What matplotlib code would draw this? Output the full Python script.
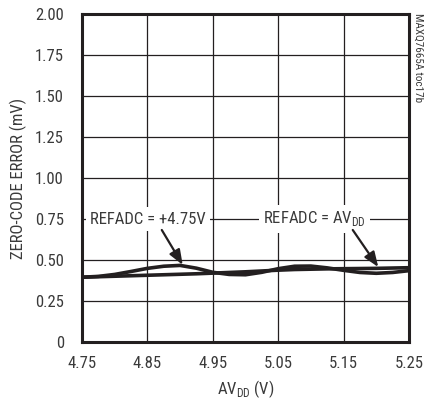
import matplotlib
matplotlib.use("Agg")
import matplotlib.pyplot as plt

# data
avdd = [4.75, 4.775, 4.80, 4.825, 4.85, 4.875, 4.90, 4.925, 4.95, 4.975, 5.00,
        5.025, 5.05, 5.075, 5.10, 5.125, 5.15, 5.175, 5.20, 5.225, 5.25]
err_ref475 = [0.395, 0.400, 0.412, 0.430, 0.449, 0.462, 0.467, 0.450, 0.425, 0.412, 0.410,
              0.425, 0.447, 0.462, 0.463, 0.452, 0.437, 0.424, 0.419, 0.424, 0.435]
err_refavdd = [0.395, 0.398, 0.401, 0.404, 0.407, 0.410, 0.413, 0.416, 0.420, 0.424, 0.428,
               0.433, 0.438, 0.442, 0.444, 0.446, 0.447, 0.448, 0.449, 0.451, 0.453]

x_ticks = [4.75, 4.85, 4.95, 5.05, 5.15, 5.25]
y_ticks = [0, 0.25, 0.50, 0.75, 1.00, 1.25, 1.50, 1.75, 2.00]
y_labels = ["0", "0.25", "0.50", "0.75", "1.00", "1.25", "1.50", "1.75", "2.00"]

INK = "#231f20"
TXT = "#3a3a3a"
FS = 12

plt.rcParams["font.family"] = ["Roboto Condensed", "DejaVu Sans"]
plt.rcParams["mathtext.fontset"] = "custom"
plt.rcParams["mathtext.rm"] = "Roboto Condensed"

fig = plt.figure(figsize=(4.24, 4.05), dpi=100)
ax = fig.add_axes([82 / 424, 63 / 405, 327 / 424, 328 / 405])

ax.plot(avdd, err_refavdd, color=INK, linewidth=2.6, solid_capstyle="butt")
ax.plot(avdd, err_ref475, color=INK, linewidth=2.6, solid_capstyle="butt")

ax.set_xlim(4.75, 5.25)
ax.set_ylim(0, 2.0)
ax.set_xticks(x_ticks)
ax.set_xticklabels([f"{v:.2f}" for v in x_ticks])
ax.set_yticks(y_ticks)
ax.set_yticklabels(y_labels)
ax.tick_params(length=0, labelsize=FS, colors=TXT)
ax.tick_params(axis="x", pad=10)
ax.tick_params(axis="y", pad=13)
ax.grid(True, color=INK, linewidth=0.9)
ax.set_axisbelow(True)
for sp in ax.spines.values():
    sp.set_linewidth(2.2)
    sp.set_color(INK)

ax.set_xlabel("AV$_{\\mathregular{DD}}$ (V)", fontsize=FS, color=TXT, labelpad=5)
ax.set_ylabel("ZERO-CODE ERROR (mV)", fontsize=FS, color=TXT, labelpad=6)

arrow = dict(arrowstyle="-|>,head_length=0.9,head_width=0.35", color=INK,
             linewidth=1.6, shrinkA=0, shrinkB=0)
box = dict(boxstyle="square,pad=0.25", facecolor="white", edgecolor="none")

ax.text(4.851, 0.75, "REFADC = +4.75V", fontsize=FS, color=TXT,
        ha="center", va="center", bbox=box)
ax.annotate("", xy=(4.904, 0.47), xytext=(4.872, 0.683), arrowprops=arrow)

ax.text(5.106, 0.75, "REFADC = AV$_{\\mathregular{DD}}$", fontsize=FS, color=TXT,
        ha="center", va="center", bbox=box)
ax.annotate("", xy=(5.203, 0.457), xytext=(5.164, 0.683), arrowprops=arrow)

fig.text(418 / 424, 1 - 13 / 405, "MAXQ7665A toc17b", rotation=270, fontsize=8,
         color=TXT, ha="center", va="top")

fig.savefig("out.png", dpi=100)
